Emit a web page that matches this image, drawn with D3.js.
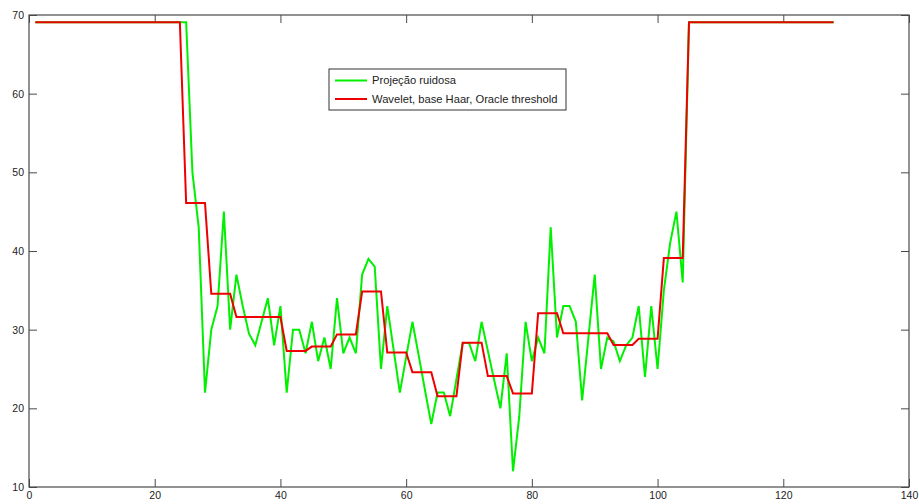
<!DOCTYPE html>
<html>
<head>
<meta charset="utf-8">
<script src="https://cdn.jsdelivr.net/npm/d3@7"></script>
<style>
  html, body { margin: 0; padding: 0; background: #fff; }
  svg { display: block; }
  .tick text { font-family: "Liberation Sans", Arial, sans-serif; font-size: 10.5px; fill: #222; }
</style>
</head>
<body>
<svg id="chart" width="919" height="504"></svg>
<script>
// Sample index along the projection
const sampleIndex = [
  1,2,3,4,5,6,7,8,9,10,11,12,13,14,15,16,17,18,19,20,21,22,23,24,25,26,27,28,29,30,31,32,
  33,34,35,36,37,38,39,40,41,42,43,44,45,46,47,48,49,50,51,52,53,54,55,56,57,58,59,60,61,62,63,64,
  65,66,67,68,69,70,71,72,73,74,75,76,77,78,79,80,81,82,83,84,85,86,87,88,89,90,91,92,93,94,95,96,
  97,98,99,100,101,102,103,104,105,106,107,108,109,110,111,112,113,114,115,116,117,118,119,120,121,122,123,124,125,126,127,128
];

// Noisy projection
const noisyProjection = [
  69.07,69.07,69.07,69.07,69.07,69.07,69.07,69.07,69.07,69.07,69.07,69.07,69.07,69.07,69.07,69.07,
  69.07,69.07,69.07,69.07,69.07,69.07,69.07,69.07,
  69.07,50,43,22,30,33,45,30,
  37,33,29.5,28,31,34,28,33,
  22,30,30,27,31,26,29,25,
  34,27,29,27,37,39,38,25,
  33,27.5,22,26.5,31,26.7,22.3,18,
  22,22,19,23.7,28.3,28.3,26,31,
  27.3,23.6,20,27,12,19,31,26,
  29,27,43,29,33,33,31,21,
  29,37,25,29,28.5,26,28,29,
  33,24,33,25,35,41,45,36,
  69.07,69.07,69.07,69.07,69.07,69.07,69.07,69.07,69.07,69.07,69.07,69.07,69.07,69.07,69.07,69.07,
  69.07,69.07,69.07,69.07,69.07,69.07,69.07,69.07
];

// Haar wavelet reconstruction with oracle threshold
const haarOracle = [
  69.07,69.07,69.07,69.07,69.07,69.07,69.07,69.07,69.07,69.07,69.07,69.07,69.07,69.07,69.07,69.07,
  69.07,69.07,69.07,69.07,69.07,69.07,69.07,69.07,
  46.1,46.1,46.1,46.1,34.55,34.55,34.55,34.55,
  31.6,31.6,31.6,31.6,31.6,31.6,31.6,31.6,
  27.3,27.3,27.3,27.3,27.85,27.85,27.85,27.85,
  29.4,29.4,29.4,29.4,34.85,34.85,34.85,34.85,
  27.1,27.1,27.1,27.1,24.6,24.6,24.6,24.6,
  21.55,21.55,21.55,21.55,28.35,28.35,28.35,28.35,
  24.1,24.1,24.1,24.1,21.9,21.9,21.9,21.9,
  32.1,32.1,32.1,32.1,29.55,29.55,29.55,29.55,
  29.55,29.55,29.55,29.55,28.05,28.05,28.05,28.05,
  28.85,28.85,28.85,28.85,39.1,39.1,39.1,39.1,
  69.07,69.07,69.07,69.07,69.07,69.07,69.07,69.07,69.07,69.07,69.07,69.07,69.07,69.07,69.07,69.07,
  69.07,69.07,69.07,69.07,69.07,69.07,69.07,69.07
];

const xTicks = [0, 20, 40, 60, 80, 100, 120, 140];
const yTicks = [10, 20, 30, 40, 50, 60, 70];
const legendLabels = ["Projeção ruidosa", "Wavelet, base Haar, Oracle threshold"];

const seriesList = [
  { name: legendLabels[0], values: noisyProjection, color: "#00f000" },
  { name: legendLabels[1], values: haarOracle, color: "#ee0000" }
];

const svg = d3.select("#chart");
const plot = { left: 29, right: 909, top: 15, bottom: 487 };

const x = d3.scaleLinear().domain([0, 140]).range([plot.left, plot.right]);
const y = d3.scaleLinear().domain([10, 70]).range([plot.bottom, plot.top]);

const axisColor = "#4a4a4a";
const tickLen = 8;

// Axes on all four sides with inward ticks
function styleAxis(g, hideLabels) {
  g.select(".domain").remove();
  g.selectAll(".tick line").attr("stroke", axisColor);
  if (hideLabels) g.selectAll(".tick text").remove();
}

svg.append("g")
  .attr("transform", `translate(0,${plot.bottom})`)
  .call(d3.axisBottom(x).tickValues(xTicks).tickSizeInner(-tickLen).tickSizeOuter(0).tickPadding(2))
  .call(g => styleAxis(g, false))
  .call(g => g.selectAll(".tick text").attr("dy", "0.95em"));

svg.append("g")
  .attr("transform", `translate(0,${plot.top})`)
  .call(d3.axisTop(x).tickValues(xTicks).tickSizeInner(-tickLen).tickSizeOuter(0))
  .call(g => styleAxis(g, true));

svg.append("g")
  .attr("transform", `translate(${plot.left},0)`)
  .call(d3.axisLeft(y).tickValues(yTicks).tickSizeInner(-tickLen).tickSizeOuter(0).tickPadding(5))
  .call(g => styleAxis(g, false));

svg.append("g")
  .attr("transform", `translate(${plot.right},0)`)
  .call(d3.axisRight(y).tickValues(yTicks).tickSizeInner(-tickLen).tickSizeOuter(0))
  .call(g => styleAxis(g, true));

// Frame
svg.append("rect")
  .attr("x", plot.left).attr("y", plot.top)
  .attr("width", plot.right - plot.left).attr("height", plot.bottom - plot.top)
  .attr("fill", "none").attr("stroke", axisColor).attr("stroke-width", 1.2);

// Series lines
const line = d3.line()
  .x((d, i) => x(sampleIndex[i]))
  .y(d => y(d));

svg.selectAll("path.series")
  .data(seriesList)
  .join("path")
  .attr("class", "series")
  .attr("d", s => line(s.values))
  .attr("fill", "none")
  .attr("stroke", s => s.color)
  .attr("stroke-width", 2)
  .attr("stroke-linejoin", "miter");

// Legend
const lg = svg.append("g").attr("transform", "translate(329,69)");
lg.append("rect")
  .attr("width", 237).attr("height", 41)
  .attr("fill", "#fff").attr("stroke", "#333").attr("stroke-width", 1);

const rows = lg.selectAll("g.row")
  .data(seriesList)
  .join("g")
  .attr("class", "row")
  .attr("transform", (d, i) => `translate(0,${11.5 + i * 18.5})`);

rows.append("line")
  .attr("x1", 6).attr("x2", 38)
  .attr("stroke", d => d.color).attr("stroke-width", 2);

rows.append("text")
  .attr("x", 43).attr("y", 0).attr("dy", "0.35em")
  .attr("font-family", "Liberation Sans, Arial, sans-serif")
  .attr("font-size", 11.2)
  .attr("fill", "#222")
  .text(d => d.name);
</script>
</body>
</html>
